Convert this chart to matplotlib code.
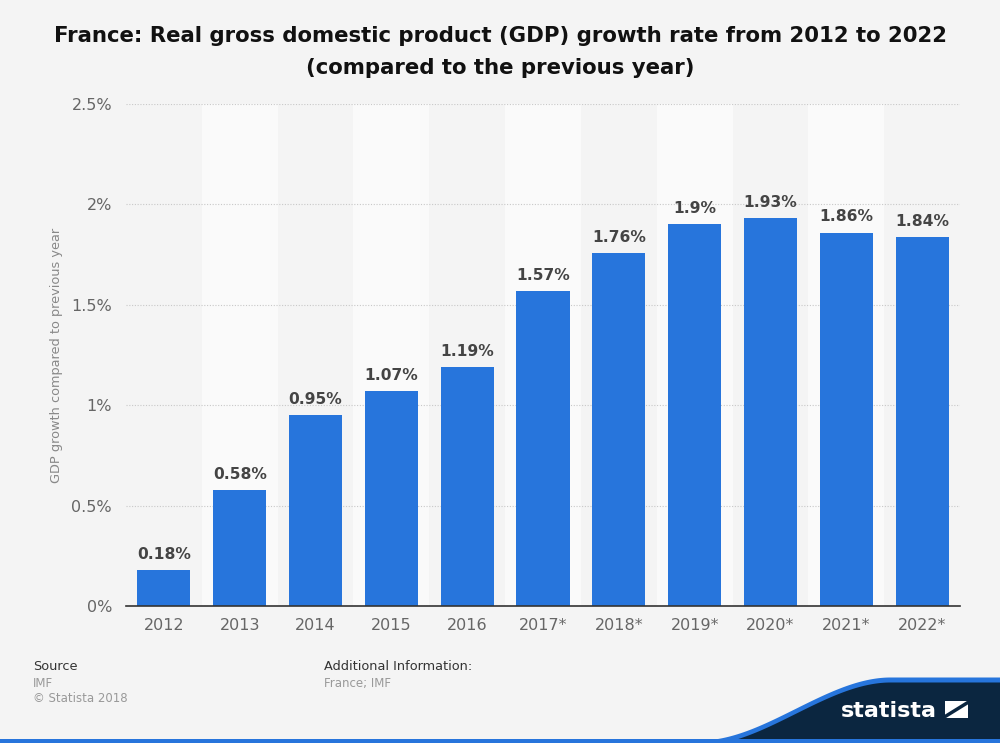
import numpy as np
import matplotlib.pyplot as plt

plt.rcParams['font.family'] = ['DejaVu Sans']

years = ['2012', '2013', '2014', '2015', '2016', '2017*', '2018*', '2019*', '2020*', '2021*', '2022*']
growth = [0.18, 0.58, 0.95, 1.07, 1.19, 1.57, 1.76, 1.9, 1.93, 1.86, 1.84]
labels = ['0.18%', '0.58%', '0.95%', '1.07%', '1.19%', '1.57%', '1.76%', '1.9%', '1.93%', '1.86%', '1.84%']
yticks = [0, 0.5, 1, 1.5, 2, 2.5]
ytick_labels = ['0%', '0.5%', '1%', '1.5%', '2%', '2.5%']

bg = '#f4f4f4'
bar_color = '#2775dc'
navy = '#0b2640'

fig = plt.figure(figsize=(10, 7.43), dpi=100, facecolor=bg)
ax = fig.add_axes([0.126, 0.1844, 0.834, 0.6756])
ax.set_facecolor(bg)

x = np.arange(len(years))
# alternating light column bands
for i in x:
    if i % 2 == 1:
        ax.axvspan(i - 0.5, i + 0.5, color='#fafafa', zorder=0, lw=0)

ax.bar(x, growth, width=0.7, color=bar_color, zorder=3)
for xi, v, lab in zip(x, growth, labels):
    ax.text(xi, v + 0.04, lab, ha='center', va='bottom', fontsize=11.2,
            fontweight='bold', color='#444444', zorder=4)

ax.set_xlim(-0.5, len(years) - 0.5)
ax.set_ylim(0, 2.5)
ax.set_yticks(yticks)
ax.set_yticklabels(ytick_labels)
ax.set_xticks(x)
ax.set_xticklabels(years)
ax.tick_params(axis='both', length=0, labelsize=11.5, labelcolor='#666666')
ax.tick_params(axis='y', pad=10)
ax.tick_params(axis='x', pad=9)
ax.yaxis.grid(True, linestyle=(0, (1, 1.5)), color='#c8c8c8', lw=0.8, zorder=1)
for s in ['top', 'right', 'left']:
    ax.spines[s].set_visible(False)
ax.spines['bottom'].set_color('#333333')
ax.spines['bottom'].set_linewidth(1.2)
ax.spines['bottom'].set_zorder(5)
ax.set_ylabel('GDP growth compared to previous year', fontsize=9.3, color='#888888', labelpad=6)

fig.text(0.5, 0.965, 'France: Real gross domestic product (GDP) growth rate from 2012 to 2022\n(compared to the previous year)',
         ha='center', va='top', fontsize=15.3, fontweight='bold', color='#111111', linespacing=1.75)

# footer
fig.text(0.033, 0.098, 'Source', fontsize=9.3, color='#333333')
fig.text(0.033, 0.076, 'IMF', fontsize=8.5, color='#999999')
fig.text(0.033, 0.055, '\u00a9 Statista 2018', fontsize=8.5, color='#999999')
fig.text(0.324, 0.098, 'Additional Information:', fontsize=9.3, color='#333333')
fig.text(0.324, 0.076, 'France; IMF', fontsize=8.5, color='#999999')

# logo swoosh
lax = fig.add_axes([0, 0, 1, 1], zorder=-1)
lax.set_xlim(0, 1000)
lax.set_ylim(743, 0)
lax.axis('off')
xs = np.linspace(690, 1000, 200)
t = np.clip((xs - 700) / 190, 0, 1)
curve = 740 - 63 * (3 * t**2 - 2 * t**3)
lax.fill_between(xs, curve, 743, color=bar_color, lw=0)
lax.fill_between(xs, curve + 5, 743, color=navy, lw=0)
lax.fill_between([0, 1000], 739, 743, color=bar_color, lw=0)
lax.text(937, 711, 'statista', ha='right', va='center', fontsize=16, fontweight='bold', color='white')
lax.add_patch(plt.Rectangle((945, 701), 23, 17, color='white', lw=0))
lax.plot([946, 967], [716, 703], color=navy, lw=2.5)

fig.savefig('out.png', dpi=100, facecolor=bg)
